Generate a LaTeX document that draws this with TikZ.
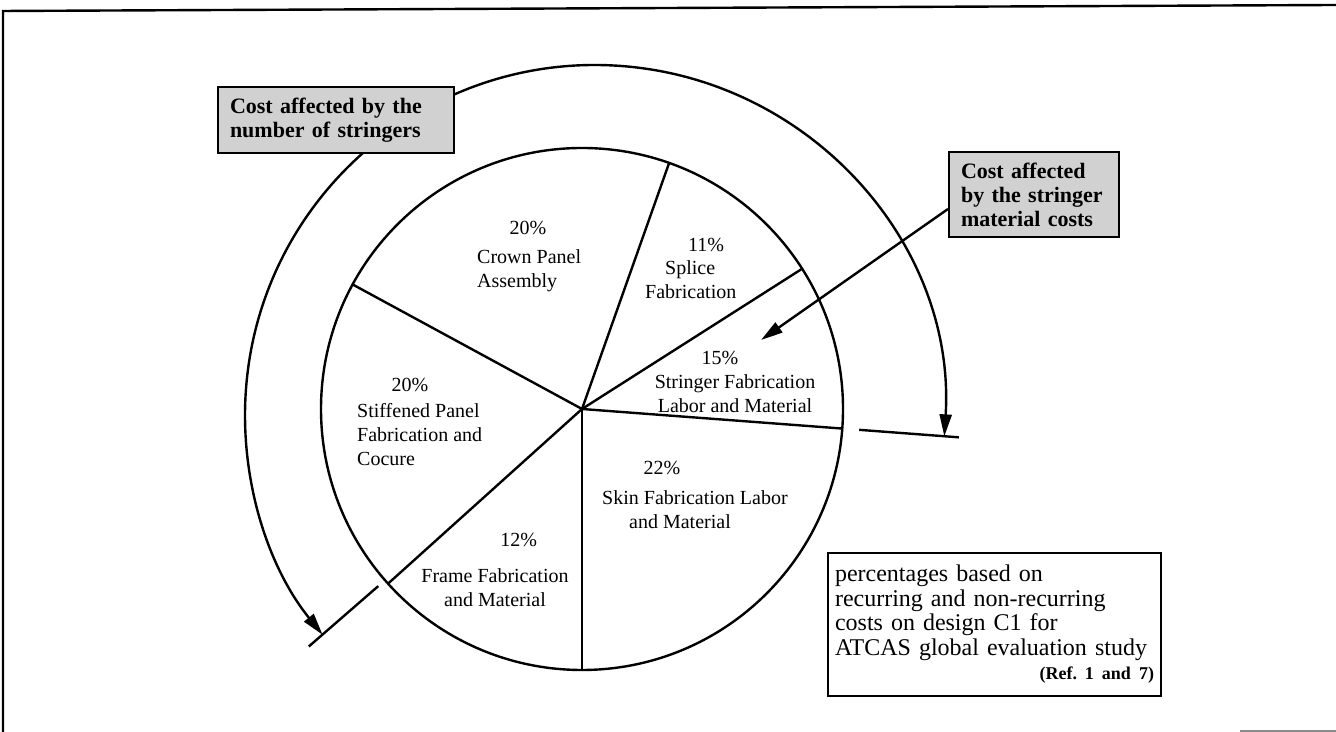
\documentclass[tikz,border=0pt]{standalone}
\usepackage{fontspec}
\setmainfont{Liberation Serif}
\usetikzlibrary{arrows.meta}

\begin{document}
\begin{tikzpicture}[
  x=0.5pt, y=0.5pt,
  font=\fontsize{10}{12}\selectfont,
  >={Triangle[length=11pt,width=6pt]},
  line width=1.2pt,
  costbox/.style={
    rectangle, draw, fill=black!18, line width=1pt,
    font=\fontsize{11}{12}\selectfont\bfseries,
    align=left, inner xsep=6pt, anchor=north west
  },
  notebox/.style={
    rectangle, draw, fill=white, line width=1pt,
    font=\fontsize{12}{12.25}\selectfont,
    align=left, inner xsep=3.5pt, anchor=north west
  },
  pct/.style={inner sep=0pt},
  sector/.style={inner sep=0pt, align=left, anchor=west}
]
  \useasboundingbox (0,0) rectangle (1336,732);

  % scan frame
  \draw (3,0) -- (3,721) -- (1336,727);
  \draw[black!45] (1240,1) -- (1336,1);

  % pie
  \coordinate (C) at (582,323);
  \draw (C) circle[radius=130.5pt];
  \foreach \a in {70.5,32.5,-4.3,-90,222,151.5}
    \draw (C) -- ++(\a:130.5pt);

  % outer arc with end ticks
  \coordinate (A) at (595,317);
  \path (A) ++(-3.5:175pt) coordinate (arcR);
  \path (C) ++(-4.3:139pt) coordinate (tickRa) ++(-4.3:50pt) coordinate (tickRb);
  \path (C) ++(221:135pt) coordinate (tickLa) ++(221:46pt) coordinate (tickLb);
  \draw[<->] (arcR) arc[start angle=-3.5, end angle=218.9, radius=175pt];
  \draw (tickRa) -- (tickRb);
  \draw (tickLa) -- (tickLb);

  % boxes
  \node[costbox, text width=106pt, minimum height=33pt] (boxnum) at (217,646)
    {Cost affected by the\\number of stringers};
  \node[costbox, text width=73pt, minimum height=42.5pt] (boxmat) at (948,581)
    {Cost affected\\by the stringer\\material costs};
  \node[notebox, text width=159.5pt, minimum height=71.5pt] (note) at (827,180)
    {percentages based on\\recurring and non-recurring\\costs on design C1 for\\ATCAS global evaluation study\\
     \hspace*{\fill}{\fontsize{9}{10}\selectfont\bfseries (Ref.\ 1 and 7)}};

  \coordinate (tipstr) at (761,392);
  \draw[->] ([yshift=-7.25pt]boxmat.west) -- (tipstr);

  % sector labels
  \node[pct] (pcrown) at (528,504) {20\%};
  \node[sector] (lcrown) at (476,461.5) {Crown Panel\\Assembly};

  \node[pct] (psplice) at (706,487) {11\%};
  \node[sector] (lsplice) at (644,452.5) {\hspace*{10pt}Splice\\Fabrication};

  \node[pct] (pstringer) at (720,374) {15\%};
  \node[sector, align=center, anchor=center] (lstringer) at (735,338.5)
    {Stringer Fabrication\\Labor and Material};

  \node[pct] (pskin) at (662,264) {22\%};
  \node[sector] (lskin) at (601,222.5) {Skin Fabrication Labor\\\hspace*{13.5pt}and Material};

  \node[pct] (pframe) at (518.6,192) {12\%};
  \node[sector, align=center, anchor=center] (lframe) at (495,144.5)
    {Frame Fabrication\\and Material};

  \node[pct] (pstiff) at (410,347) {20\%};
  \node[sector] (lstiff) at (356,297) {Stiffened Panel\\Fabrication and\\Cocure};

\end{tikzpicture}
\end{document}
